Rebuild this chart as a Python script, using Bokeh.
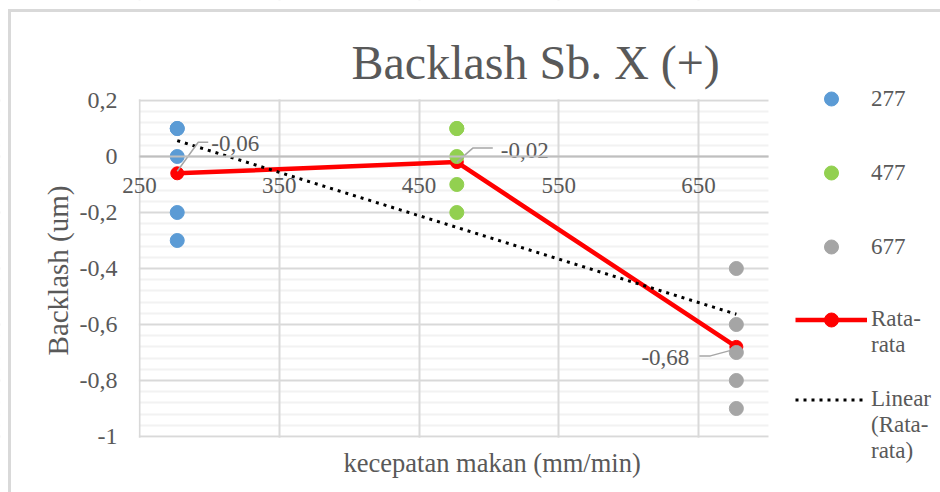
import math
import numpy as np
from bokeh.plotting import figure
from bokeh.models import (FixedTicker, CustomJSTickFormatter, Legend, LegendItem,
                          Range1d, InlineStyleSheet, BoxAnnotation, Label)
from bokeh.core.properties import value
from bokeh.embed import file_html
from bokeh.resources import INLINE

# Feed speeds (mm/min) and measured backlash (um) per speed
speeds = [277, 477, 677]
backlash_277 = [0.1, 0.1, 0.0, -0.2, -0.3]
backlash_477 = [0.1, 0.1, 0.0, -0.1, -0.2]
backlash_677 = [-0.4, -0.6, -0.7, -0.8, -0.9]
series_labels = ["277", "477", "677"]
series_colors = ["#5b9bd5", "#92d050", "#a5a5a5"]
x_ticks = [250, 350, 450, 550, 650]
y_ticks = [-1.0, -0.8, -0.6, -0.4, -0.2, 0.0, 0.2]

groups = [backlash_277, backlash_477, backlash_677]
averages = [round(float(np.mean(g)), 2) for g in groups]
avg_labels = [f"{a:.2f}".replace(".", ",") for a in averages]
slope, intercept = np.polyfit(speeds, averages, 1)
trend = [slope * s + intercept for s in speeds]

FONT = "Liberation Serif"
TXT = "#595959"

# page geometry: the canvas is one frame; the plot area sits inside it
W, H = 940, 492
PL, PR, PT, PB = 139, 768, 100, 436          # plot area edges in pixels
X_LO, X_HI, Y_LO, Y_HI = 250, 700, -1.0, 0.2  # plot area in data units
SX = (PR - PL) / (X_HI - X_LO)
SY = (PB - PT) / (Y_HI - Y_LO)

p = figure(width=W, height=H,
           x_range=Range1d(X_LO - PL / SX, X_HI + (W - PR) / SX),
           y_range=Range1d(Y_LO - (H - PB) / SY, Y_HI + PT / SY),
           output_backend="svg", toolbar_location=None, min_border=0)
p.border_fill_color = "white"
p.background_fill_color = "white"
p.outline_line_color = None
p.stylesheets = [InlineStyleSheet(css=
    ":host{position:relative;}"
    ":host::after{content:'';position:absolute;left:8px;top:9px;right:0;bottom:0;"
    "border-left:3px solid #d9d9d9;border-top:3px solid #d9d9d9;pointer-events:none;}")]

# grids: horizontal (major + minor) underneath the vertical lines
p.ygrid.level = "image"
p.ygrid.grid_line_color = "#d9d9d9"
p.ygrid.grid_line_width = 2
p.ygrid.minor_grid_line_color = "#f2f2f2"
p.ygrid.minor_grid_line_width = 2
p.xgrid.grid_line_color = "#d9d9d9"
p.xgrid.grid_line_width = 2

# keep grid lines inside the plot area
mask = dict(fill_color="white", fill_alpha=1, line_alpha=0, level="underlay")
p.add_layout(BoxAnnotation(right=X_LO - 0.7 / SX, **mask))
p.add_layout(BoxAnnotation(left=X_HI, **mask))
p.add_layout(BoxAnnotation(bottom=Y_HI + 1.2 / SY, **mask))
p.add_layout(BoxAnnotation(top=Y_LO - 1.2 / SY, **mask))

# x axis crossing at zero
xa = p.xaxis[0]
xa.ticker = FixedTicker(ticks=x_ticks)
xa.fixed_location = 0
xa.bounds = (X_LO, X_HI)
xa.axis_line_color = "#bfbfbf"
xa.axis_line_width = 2
xa.major_tick_line_color = None
xa.minor_tick_line_color = None
xa.major_label_text_font = FONT
xa.major_label_text_font_size = "23px"
xa.major_label_text_color = TXT
xa.major_label_standoff = 15

# y axis along the left edge of the plot area
ya = p.yaxis[0]
minor = [round(v, 2) for v in np.arange(-1.0, 0.2001, 0.04) if round(v, 2) not in y_ticks]
ya.ticker = FixedTicker(ticks=y_ticks, minor_ticks=minor)
ya.fixed_location = X_LO
ya.bounds = (Y_LO, Y_HI)
ya.formatter = CustomJSTickFormatter(code="""
    let s = tick.toFixed(1).replace('.', ',');
    if (s.endsWith(',0')) s = s.slice(0, -2);
    if (s === '-0') s = '0';
    return s;
""")
ya.axis_line_color = None
ya.major_tick_line_color = None
ya.minor_tick_line_color = None
ya.major_label_text_font = FONT
ya.major_label_text_font_size = "24px"
ya.major_label_text_color = TXT
ya.major_label_standoff = 16

# chart title and axis titles
title_style = dict(x_units="screen", y_units="screen", text_font=FONT, text_color=TXT)
p.add_layout(Label(x=351, y=H - 62, text="Backlash Sb. X (+)", text_font_size="48px",
                   text_baseline="alphabetic", **title_style))
p.add_layout(Label(x=343, y=H - 462, text="kecepatan makan (mm/min)", text_font_size="26.5px",
                   text_baseline="alphabetic", **title_style))
p.add_layout(Label(x=57, y=H - 270, text="Backlash (um)", text_font_size="29px",
                   angle=math.pi / 2, text_align="center", text_baseline="middle",
                   **title_style))

# average line
r_avg_line = p.line(speeds, averages, line_color="red", line_width=4.5)
r_avg_pts = p.scatter(speeds, averages, size=13, fill_color="red", line_color="red")

# individual measurements
scatter_renderers = []
for s, g, c in zip(speeds, groups, series_colors):
    scatter_renderers.append(p.scatter([s] * len(g), g, size=14, fill_color=c, line_color=c))

# linear trend of the averages
r_trend = p.line(speeds, trend, line_color="black", line_width=3, line_dash="3 5")

# data labels with leader lines (pixel offsets from each average point)
leaders = [[(0, -2), (21, -31), (31, -31)],
           [(0, 0), (16, -14), (36, -14)],
           [(0, 2), (-26, 9), (-37, 9)]]
lx, ly = [], []
for s, a, pts in zip(speeds, averages, leaders):
    lx.append([s + dx / SX for dx, dy in pts])
    ly.append([a - dy / SY for dx, dy in pts])
p.multi_line(lx, ly, line_color="#a6a6a6", line_width=1.5)
label_dx = [34, 44, -47]
label_dy = [-30, -12, 11]
label_align = ["left", "left", "right"]
for s, a, t, dx, dy, al in zip(speeds, averages, avg_labels, label_dx, label_dy, label_align):
    p.text([s], [a], text=[t], x_offset=dx, y_offset=dy, text_align=al,
           text_baseline="middle", text_font=value(FONT), text_font_size="23px",
           text_color=TXT)

# legend, right of the plot area (glyph aligned with the first text line)
common = dict(glyph_width=72, glyph_height=35, label_standoff=4, padding=0, margin=0,
              border_line_color=None, background_fill_alpha=0,
              label_text_font=FONT, label_text_font_size="23px", label_text_color=TXT)
leg_a = Legend(items=[LegendItem(label=l, renderers=[r])
                      for l, r in zip(series_labels, scatter_renderers)],
               location=(795, H - 264), spacing=39, **common)
leg_b = Legend(items=[LegendItem(label="\nRata-\nrata", renderers=[r_avg_line, r_avg_pts])],
               location=(795, H - 358), **common)
leg_c = Legend(items=[LegendItem(label="\n\nLinear\n(Rata-\nrata)", renderers=[r_trend])],
               location=(795, H - 464), **common)
for leg in (leg_a, leg_b, leg_c):
    p.add_layout(leg)

open("out.html", "w").write(file_html(p, INLINE))
